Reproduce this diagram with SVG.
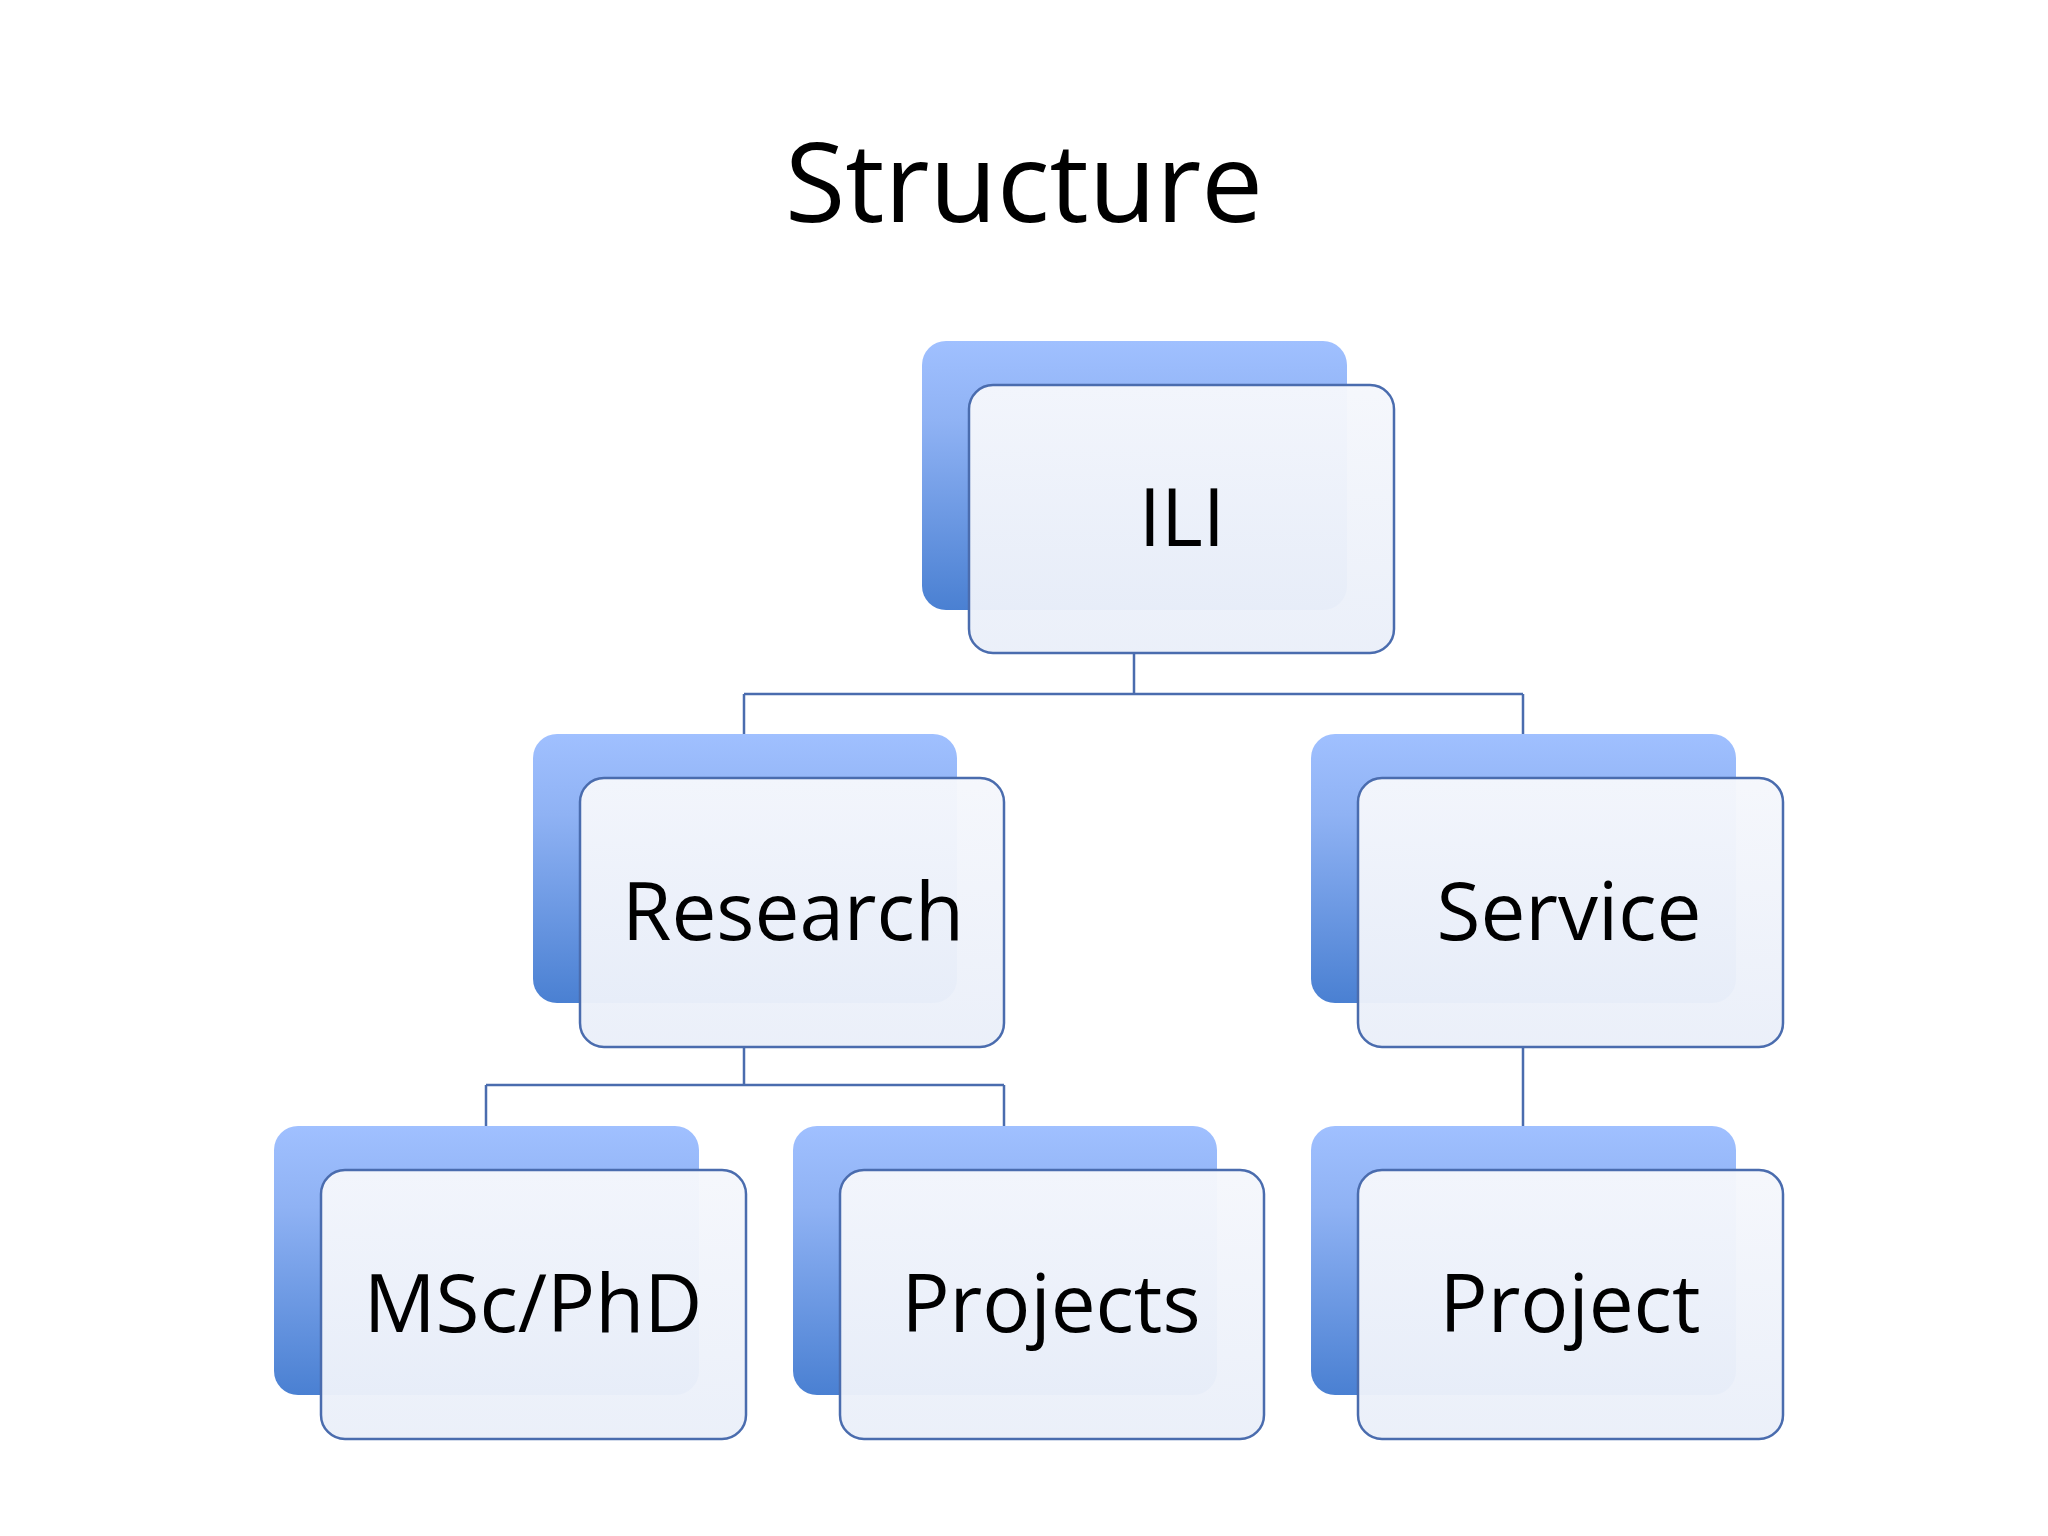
<svg xmlns="http://www.w3.org/2000/svg" width="2048" height="1536" viewBox="0 0 2048 1536">
<defs>
<linearGradient id="bg" x1="0" y1="0" x2="0" y2="1">
<stop offset="0" stop-color="#a0c0ff"/><stop offset="0.3" stop-color="#8fb2f4"/><stop offset="1" stop-color="#4a80d2"/>
</linearGradient>
<linearGradient id="fg" x1="0" y1="0" x2="0" y2="1">
<stop offset="0" stop-color="#f5f7fc" stop-opacity="0.97"/><stop offset="1" stop-color="#eaeff9" stop-opacity="0.97"/>
</linearGradient>
</defs>
<style>
.b{fill:url(#bg)}
.f{fill:url(#fg);stroke:#4a6cae;stroke-width:2.5}
.t{font-family:"Open Sans","Noto Sans",sans-serif;font-size:80px;fill:#000;text-anchor:middle}
.c{fill:none;stroke:#4a6cae;stroke-width:2.5}
</style>
<rect width="2048" height="1536" fill="#fff"/>
<text x="1024" y="222" font-family="Open Sans, Noto Sans, sans-serif" font-size="110" text-anchor="middle">Structure</text>
<g id="connectors">
<path class="c" d="M1134 653V694M744 694H1523M744 694V734M1523 694V734M744 1047V1085M486 1085H1004M486 1085V1126M1004 1085V1126M1523 1047V1126"/>
</g>
<g id="ili"><rect class="b" x="922" y="341" width="425" height="269" rx="24"/><rect class="f" x="969" y="385" width="425" height="268" rx="24"/><text class="t" x="1182" y="546">ILI</text></g>
<g id="research"><rect class="b" x="533" y="734" width="424" height="269" rx="24"/><rect class="f" x="580" y="778" width="424" height="269" rx="24"/><text class="t" x="793" y="940">Research</text></g>
<g id="service"><rect class="b" x="1311" y="734" width="425" height="269" rx="24"/><rect class="f" x="1358" y="778" width="425" height="269" rx="24"/><text class="t" x="1569" y="940">Service</text></g>
<g id="mscphd"><rect class="b" x="274" y="1126" width="425" height="269" rx="24"/><rect class="f" x="321" y="1170" width="425" height="269" rx="24"/><text class="t" x="533" y="1332">MSc/PhD</text></g>
<g id="projects"><rect class="b" x="793" y="1126" width="424" height="269" rx="24"/><rect class="f" x="840" y="1170" width="424" height="269" rx="24"/><text class="t" x="1051" y="1332">Projects</text></g>
<g id="project"><rect class="b" x="1311" y="1126" width="425" height="269" rx="24"/><rect class="f" x="1358" y="1170" width="425" height="269" rx="24"/><text class="t" x="1570" y="1332">Project</text></g>
</svg>
